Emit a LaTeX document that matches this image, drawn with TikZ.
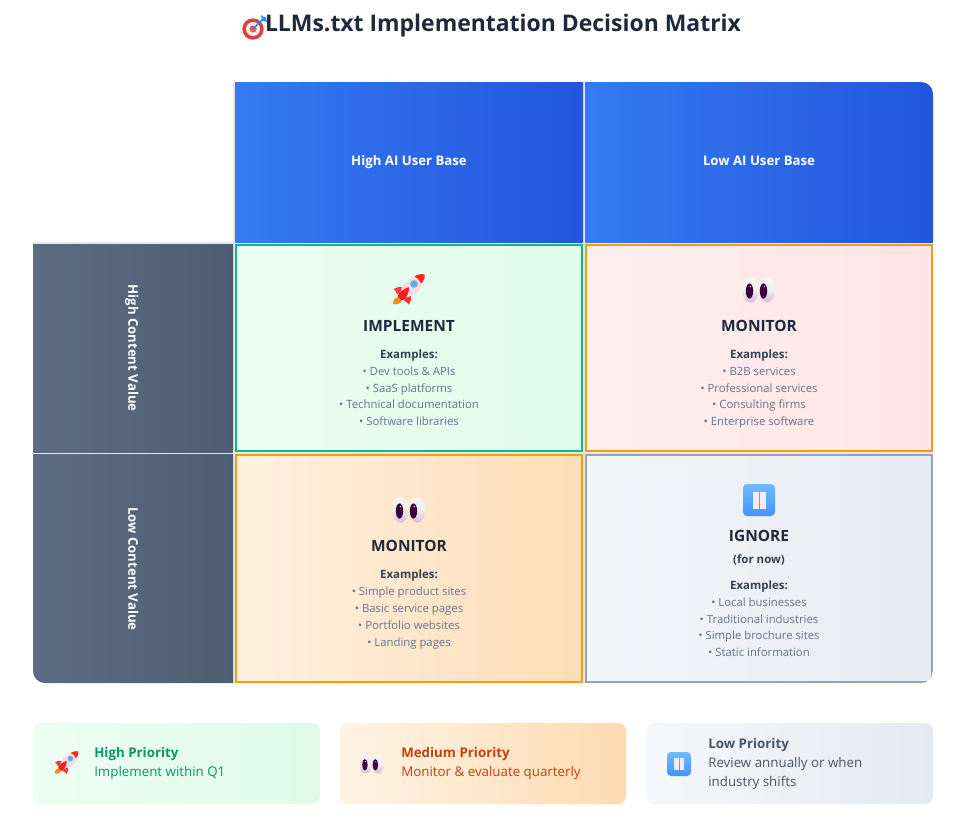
\documentclass[tikz,border=0pt]{standalone}
\usepackage{fontspec}
\setmainfont{Open Sans}
\definecolor{ink}{HTML}{1E293B}
\definecolor{exa}{HTML}{334155}
\definecolor{lst}{HTML}{64748B}
\definecolor{gapc}{HTML}{E2E8F0}
\definecolor{grn}{HTML}{10B981}
\definecolor{org}{HTML}{F59E0B}
\definecolor{gry}{HTML}{94A3B8}
\definecolor{hi}{HTML}{059669}
\definecolor{me}{HTML}{C2410C}
\definecolor{lo}{HTML}{475569}
\newcommand{\gradbox}[7]{%
 \begin{scope}
  \definecolor{gradA}{HTML}{#5}\definecolor{gradB}{HTML}{#6}%
  \clip[rounded corners=#7] (#1,#2) rectangle (#3,#4);
  \pgfmathsetmacro{\gL}{((#3-#1)+(#4-#2))/2.8284}
  \begin{scope}[shift={({(#1+#3)/2},{(#2+#4)/2})},rotate=-45]
   \shade[left color=gradA,right color=gradB] (-\gL,-\gL) rectangle (\gL,\gL);
  \end{scope}
 \end{scope}}
\newcommand{\fs}[1]{\fontsize{#1}{#1}\selectfont}
\tikzset{
 headtxt/.style={text=white,font=\bfseries\fs{9.9},anchor=mid},
 celltitle/.style={text=ink,font=\bfseries\fs{11.6},anchor=mid},
 extitle/.style={text=exa,font=\bfseries\fs{8.6},anchor=mid},
 listtxt/.style={text=lst,font=\fs{8.5},anchor=mid},
 legt/.style={font=\bfseries\fs{10},anchor=mid west,inner sep=0pt},
 legs/.style={font=\bfseries\fs{10},anchor=mid west,inner sep=0pt},
 rocketicon/.pic={
  \fill[orange!90!yellow] (-15,14) .. controls (-15,9) and (-12,7) .. (-9,6.5) -- (-6,10) .. controls (-7,13) and (-10,15) .. (-15,14) -- cycle;
  \shade[top color=white!88!violet,bottom color=black!8!pink!60!violet!25] (16.5,-15.5) .. controls (8,-16) and (-4,-10) .. (-8.5,3) -- (-3,9) .. controls (10,5) and (18,-6) .. (16.5,-15.5) -- cycle;
  \fill[red!80!pink] (16.5,-15.5) .. controls (13,-16.5) and (9,-15.5) .. (6.5,-13.5) .. controls (9,-12.5) and (12,-9) .. (13,-6.5) .. controls (15.5,-9) and (17.5,-12) .. (16.5,-15.5) -- cycle;
  \fill[blue!60!black] (-9,3) -- (-3,9) -- (-6,10) -- (-10,6) -- cycle;
  \fill[gray!70] (6,-6) circle (3.9);
  \fill[blue!45!cyan!70] (6,-6) circle (2.9);
  \fill[red!70!pink] (-14.5,-1) .. controls (-12,-3) and (-9,-3) .. (-6,-3) -- (-8,3) -- (-11,4) .. controls (-12,2) and (-13,0) .. (-14.5,-1) -- cycle;
  \fill[red!70!pink] (1,14.5) .. controls (3,12) and (3,9) .. (3,6) -- (-3,8) -- (-4,11) .. controls (-2,12) and (0,13) .. (1,14.5) -- cycle;
  \fill[red!85!pink] (-10.5,6.5) .. controls (-8,1) and (-4,-1) .. (1,-3) .. controls (1,3) and (-1,7) .. (-4.5,10) -- cycle;
 },
 eyesicon/.pic={
  \foreach \ex/\px in {-8.5/-9.5,8/4.5}{
   \shade[top color=white!92!gray,bottom color=violet!28!white,middle color=white!88!gray] (\ex,0) ellipse (8.3 and 12.7);
   \fill[violet!45!black] (\px,1) ellipse (3.7 and 7.6);
   \fill[white!85!violet] (\px+.8,-3.5) circle (.8);
  }
 },
 pauseicon/.pic={
  \shade[rounded corners=3,top color=blue!50!cyan!55,bottom color=blue!55!cyan!75] (-16,-16) rectangle (16,16);
  \fill[white!92!violet] (-6.5,-8.5) rectangle (-.5,8.5);
  \fill[white!92!violet] (.8,-8.5) rectangle (6.8,8.5);
 },
 targeticon/.pic={
  \fill[red!65!pink!90!black] (-2,1) circle (10.7);
  \fill[white!80!pink] (-2,1) circle (7);
  \fill[red!55!pink] (-2,1) circle (3.6);
  \draw[blue!40!cyan,line width=1.1pt] (-2,1) -- (8,-9);
  \fill[blue!55!cyan!80] (6,-13) -- (7,-7) -- (13,-6) -- (11,-8) -- (11,-11) -- (9,-11) -- cycle;
 }
}
\begin{document}
\begin{tikzpicture}[x=0.75pt,y=-0.75pt]
\useasboundingbox[fill=white] (0,0) rectangle (960,818);
% title
\pic (titleicon) at (255,28) {targeticon};
\node[text=ink,font=\bfseries\fs{17.2},anchor=mid] (title) at (503,28) {LLMs.txt Implementation Decision Matrix};
% grid
\begin{scope}
 \clip[rounded corners=9] (33,82) rectangle (933,683);
 \fill[gapc] (33,82) rectangle (933,683);
 \fill[white] (33,82) rectangle (233,242);
 \gradbox{235}{82}{583}{242}{3B82F6}{1D4ED8}{0}
 \gradbox{585}{82}{933}{242}{3B82F6}{1D4ED8}{0}
 \gradbox{33}{244}{233}{452}{64748B}{475569}{0}
 \gradbox{33}{454}{233}{683}{64748B}{475569}{0}
 \gradbox{235}{244}{583}{452}{F0FDF4}{DCFCE7}{0}
 \gradbox{585}{244}{933}{452}{FEF2F2}{FEE2E2}{0}
 \gradbox{235}{454}{583}{683}{FFF7ED}{FED7AA}{0}
 \gradbox{585}{454}{933}{683}{F8FAFC}{E2E8F0}{0}
 \draw[grn,line width=1.5pt] (236,245) rectangle (582,451);
 \draw[org,line width=1.5pt] (586,245) rectangle (932,451);
 \draw[org,line width=1.5pt] (236,455) rectangle (582,682);
 \draw[gry,line width=1.5pt] (586,455) rectangle (932,682);
\end{scope}
% headers
\node[headtxt] (hA) at (409,162) {High AI User Base};
\node[headtxt] (hB) at (759,162) {Low AI User Base};
\node[headtxt,rotate=-90] (hC) at (132,348) {High Content Value};
\node[headtxt,rotate=-90] (hD) at (132,569) {Low Content Value};
% cell 1
\pic (i1) at (408,290) {rocketicon};
\node[celltitle] (c1t) at (409,328) {IMPLEMENT};
\node[extitle] (c1e) at (409,355) {Examples:};
\node[listtxt] (c1a) at (409,372) {• Dev tools \& APIs};
\node[listtxt] (c1b) at (409,389) {• SaaS platforms};
\node[listtxt] (c1c) at (409,405) {• Technical documentation};
\node[listtxt] (c1d) at (409,422) {• Software libraries};
% cell 2
\pic (i2) at (759,290) {eyesicon};
\node[celltitle] (c2t) at (759,328) {MONITOR};
\node[extitle] (c2e) at (759,355) {Examples:};
\node[listtxt] (c2a) at (759,372) {• B2B services};
\node[listtxt] (c2b) at (759,389) {• Professional services};
\node[listtxt] (c2c) at (759,405) {• Consulting firms};
\node[listtxt] (c2d) at (759,422) {• Enterprise software};
% cell 3
\pic (i3) at (409,510) {eyesicon};
\node[celltitle] (c3t) at (409,548) {MONITOR};
\node[extitle] (c3e) at (409,575) {Examples:};
\node[listtxt] (c3a) at (409,592) {• Simple product sites};
\node[listtxt] (c3b) at (409,609) {• Basic service pages};
\node[listtxt] (c3c) at (409,626) {• Portfolio websites};
\node[listtxt] (c3d) at (409,643) {• Landing pages};
% cell 4
\pic (i4) at (759,500) {pauseicon};
\node[celltitle] (c4t) at (759,538) {IGNORE};
\node[extitle] (c4f) at (759,560) {(for now)};
\node[extitle] (c4e) at (759,586) {Examples:};
\node[listtxt] (c4a) at (759,603) {• Local businesses};
\node[listtxt] (c4b) at (759,620) {• Traditional industries};
\node[listtxt] (c4c) at (759,636) {• Simple brochure sites};
\node[listtxt] (c4d) at (759,653) {• Static information};
% legend
\gradbox{33}{723}{320}{804}{F0FDF4}{DCFCE7}{6}
\gradbox{340}{723}{626}{804}{FFF7ED}{FED7AA}{6}
\gradbox{646}{723}{933}{804}{F8FAFC}{E2E8F0}{6}
\pic (l1) [scale=.75] at (66,763) {rocketicon};
\pic (l2) [scale=.75] at (372,764) {eyesicon};
\pic (l3) [scale=.75] at (679,764) {pauseicon};
\node[legt,text=hi] (l1t) at (94,754) {High Priority};
\node[legs,text=hi,font=\fs{10}] (l1s) at (94,773) {Implement within Q1};
\node[legt,text=me] (l2t) at (401,754) {Medium Priority};
\node[legs,text=me,font=\fs{10}] (l2s) at (401,773) {Monitor \& evaluate quarterly};
\node[legt,text=lo] (l3t) at (708,745) {Low Priority};
\node[legs,text=lo,font=\fs{10}] (l3s) at (708,764) {Review annually or when};
\node[legs,text=lo,font=\fs{10}] (l3u) at (708,783) {industry shifts};
\end{tikzpicture}
\end{document}
